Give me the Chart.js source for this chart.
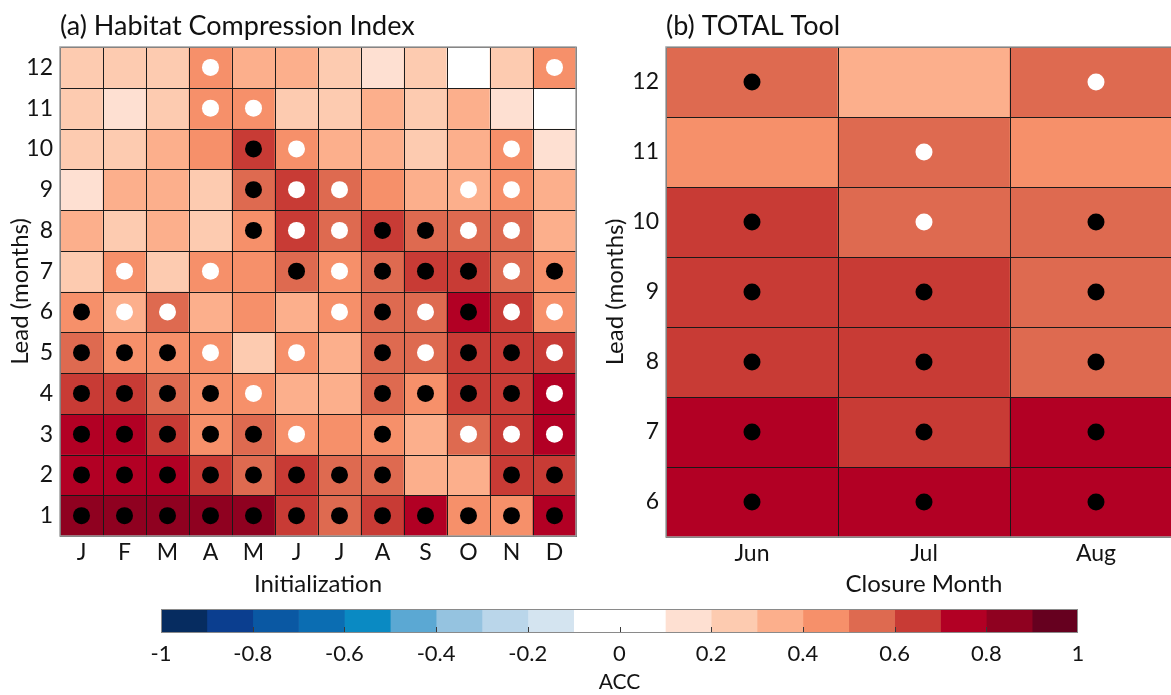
<!DOCTYPE html>
<html>
<head>
<meta charset="utf-8">
<title>ACC heatmaps</title>
<script src="https://cdn.jsdelivr.net/npm/chart.js@4.4.1/dist/chart.umd.min.js"></script>
<style>
  html, body { margin: 0; padding: 0; background: #fff; }
  body { width: 1171px; height: 695px; position: relative; overflow: hidden; }
  canvas { position: absolute; }
  #chartA { left: 0; top: 0; }
  #chartB { left: 600px; top: 0; }
  #chartC { left: 100px; top: 600px; }
</style>
</head>
<body>
<canvas id="chartA" width="590" height="600"></canvas>
<canvas id="chartB" width="600" height="600"></canvas>
<canvas id="chartC" width="1020" height="95"></canvas>
<script>
// ---- data ----
const MONTHS = ['J', 'F', 'M', 'A', 'M', 'J', 'J', 'A', 'S', 'O', 'N', 'D'];
const LEADS_A = [12, 11, 10, 9, 8, 7, 6, 5, 4, 3, 2, 1];

// ACC, rows = lead 12 -> 1, columns = initialization month
const ACC_A = [
    [0.26, 0.24, 0.25, 0.43, 0.36, 0.34, 0.27, 0.16, 0.23, 0.04, 0.26, 0.44],
    [0.24, 0.14, 0.22, 0.45, 0.42, 0.26, 0.25, 0.33, 0.27, 0.32, 0.17, 0.06],
    [0.25, 0.26, 0.34, 0.44, 0.66, 0.41, 0.35, 0.33, 0.24, 0.31, 0.43, 0.18],
    [0.13, 0.32, 0.35, 0.22, 0.57, 0.63, 0.54, 0.45, 0.36, 0.34, 0.42, 0.33],
    [0.35, 0.24, 0.33, 0.27, 0.46, 0.64, 0.56, 0.65, 0.54, 0.53, 0.55, 0.36],
    [0.25, 0.41, 0.26, 0.44, 0.47, 0.56, 0.43, 0.58, 0.62, 0.64, 0.52, 0.46],
    [0.47, 0.35, 0.53, 0.34, 0.43, 0.36, 0.44, 0.57, 0.52, 0.76, 0.61, 0.42],
    [0.58, 0.48, 0.45, 0.42, 0.25, 0.41, 0.33, 0.55, 0.51, 0.67, 0.63, 0.62],
    [0.66, 0.64, 0.57, 0.47, 0.44, 0.37, 0.36, 0.56, 0.48, 0.65, 0.68, 0.73],
    [0.76, 0.74, 0.65, 0.43, 0.55, 0.42, 0.46, 0.44, 0.35, 0.54, 0.66, 0.72],
    [0.78, 0.77, 0.73, 0.64, 0.56, 0.63, 0.58, 0.55, 0.34, 0.36, 0.67, 0.62],
    [0.86, 0.84, 0.85, 0.83, 0.87, 0.64, 0.57, 0.66, 0.74, 0.46, 0.44, 0.75]
];
// markers: 1 = black dot, 2 = white dot, 0 = none
const SIG_A = [
    [0, 0, 0, 2, 0, 0, 0, 0, 0, 0, 0, 2],
    [0, 0, 0, 2, 2, 0, 0, 0, 0, 0, 0, 0],
    [0, 0, 0, 0, 1, 2, 0, 0, 0, 0, 2, 0],
    [0, 0, 0, 0, 1, 2, 2, 0, 0, 2, 2, 0],
    [0, 0, 0, 0, 1, 2, 2, 1, 1, 2, 2, 0],
    [0, 2, 0, 2, 0, 1, 2, 1, 1, 1, 2, 1],
    [1, 2, 2, 0, 0, 0, 2, 1, 2, 1, 2, 2],
    [1, 1, 1, 2, 0, 2, 0, 1, 2, 1, 1, 2],
    [1, 1, 1, 1, 2, 0, 0, 1, 1, 1, 1, 2],
    [1, 1, 1, 1, 1, 2, 0, 1, 0, 2, 2, 2],
    [1, 1, 1, 1, 1, 1, 1, 1, 0, 0, 1, 1],
    [1, 1, 1, 1, 1, 1, 1, 1, 1, 1, 1, 1]
];

const CLOSURE = ['Jun', 'Jul', 'Aug'];
const LEADS_B = [12, 11, 10, 9, 8, 7, 6];
const ACC_B = [
    [0.56, 0.34, 0.54],
    [0.45, 0.53, 0.44],
    [0.65, 0.55, 0.57],
    [0.67, 0.64, 0.56],
    [0.63, 0.66, 0.55],
    [0.76, 0.65, 0.75],
    [0.77, 0.74, 0.78]
];
const SIG_B = [
    [1, 0, 2],
    [0, 2, 0],
    [1, 2, 1],
    [1, 1, 1],
    [1, 1, 1],
    [1, 1, 1],
    [1, 1, 1]
];

// colour classes, 0.1 wide from -1 to 1
const CBAR_LO = [-1, -0.9, -0.8, -0.7, -0.6, -0.5, -0.4, -0.3, -0.2, -0.1, 0, 0.1, 0.2, 0.3, 0.4, 0.5, 0.6, 0.7, 0.8, 0.9];
const CBAR_HI = [-0.9, -0.8, -0.7, -0.6, -0.5, -0.4, -0.3, -0.2, -0.1, 0, 0.1, 0.2, 0.3, 0.4, 0.5, 0.6, 0.7, 0.8, 0.9, 1];
const ACC_COLORS = [
    '#062c60', '#0b3e8f', '#0a58a3', '#0b6db2', '#0a8ac3', '#5ba8d3', '#95c3e0', '#bad6ea', '#d4e4f0',
    '#ffffff', '#ffffff',
    '#fee0d2', '#fdcbb0', '#fcaf8c', '#f6906a', '#de6a50', '#c83b35', '#b20024', '#8f0120', '#66001f'
];
const CBAR_TICKS = [-1, -0.8, -0.6, -0.4, -0.2, 0, 0.2, 0.4, 0.6, 0.8, 1];

// ---- helpers ----
Chart.defaults.font.family = 'Lato, "DejaVu Sans", sans-serif';
Chart.defaults.color = '#141414';
Chart.defaults.animation = false;
Chart.defaults.events = [];

function accColor(v) {
    let i = Math.floor((v + 1) * 10);
    i = Math.max(0, Math.min(19, i));
    return ACC_COLORS[i];
}

function heatDatasets(leads, acc, sig) {
    let dots = leads.map((lead, r) => ({
        type: 'scatter',
        data: sig[r].map(s => s ? lead : null),
        pointRadius: 8.5,
        pointBorderWidth: 0,
        pointBackgroundColor: sig[r].map(s => s === 1 ? '#000000' : '#ffffff')
    }));
    let cells = leads.map((lead, r) => ({
        type: 'bar',
        data: acc[r].map(() => [lead - 0.5, lead + 0.5]),
        backgroundColor: acc[r].map(accColor),
        borderWidth: 0,
        grouped: false,
        barPercentage: 1,
        categoryPercentage: 1
    }));
    // dots come first so they are painted last
    return dots.concat(cells);
}

// thin outlines round every cell, drawn once before the dots go on top
const cellEdges = {
    id: 'cellEdges',
    beforeDraw(chart) { chart.$edgesDone = false; },
    beforeDatasetDraw(chart, args) {
        if (args.meta.type !== 'scatter' || chart.$edgesDone) return;
        chart.$edgesDone = true;
        const ctx = chart.ctx;
        ctx.save();
        ctx.strokeStyle = 'rgba(25,25,25,0.85)';
        ctx.lineWidth = 1;
        chart.data.datasets.forEach((ds, i) => {
            const meta = chart.getDatasetMeta(i);
            if (meta.type !== 'bar') return;
            meta.data.forEach(bar => {
                const p = bar.getProps(['x', 'y', 'base', 'width'], true);
                const x0 = Math.round(p.x - p.width / 2) + 0.5;
                const x1 = Math.round(p.x + p.width / 2) + 0.5;
                const y0 = Math.round(Math.min(p.y, p.base)) + 0.5;
                const y1 = Math.round(Math.max(p.y, p.base)) + 0.5;
                ctx.strokeRect(x0, y0, x1 - x0, y1 - y0);
            });
        });
        const a = chart.chartArea;
        ctx.strokeStyle = '#a0a0a0';
        ctx.lineWidth = 1.5;
        ctx.strokeRect(a.left, a.top, a.right - a.left, a.bottom - a.top);
        ctx.restore();
    }
};

// frame and inner tick marks of the colour bar
const cbarFrame = {
    id: 'cbarFrame',
    afterDatasetsDraw(chart) {
        const ctx = chart.ctx, a = chart.chartArea, x = chart.scales.x;
        ctx.save();
        ctx.strokeStyle = '#3a3a3a';
        ctx.lineWidth = 1;
        CBAR_TICKS.slice(1, -1).forEach(v => {
            const px = Math.round(x.getPixelForValue(v)) + 0.5;
            ctx.beginPath();
            ctx.moveTo(px, a.bottom);
            ctx.lineTo(px, a.bottom - 6);
            ctx.stroke();
        });
        ctx.strokeStyle = '#8a8a8a';
        ctx.strokeRect(a.left + 0.5, a.top + 0.5, a.right - a.left - 1, a.bottom - a.top - 1);
        ctx.restore();
    }
};

function heatOptions(title, xTitle, yMin, yMax, leads, padRight, yWidth, xHeight, yTitlePad) {
    return {
        responsive: false,
        layout: { padding: { left: 0, right: padRight, top: 0, bottom: 0 } },
        plugins: {
            legend: { display: false },
            tooltip: { enabled: false },
            title: {
                display: true,
                text: title,
                align: 'start',
                fullSize: false,
                color: '#111',
                font: { size: 27, weight: 'normal', lineHeight: 1.2 },
                padding: { top: 10, bottom: 4.6 }
            }
        },
        scales: {
            x: {
                type: 'category',
                offset: true,
                grid: { display: false, drawTicks: false },
                border: { display: false },
                ticks: { padding: 3, font: { size: 23 }, autoSkip: false, maxRotation: 0 },
                title: { display: true, text: xTitle, font: { size: 24 }, padding: { top: 0, bottom: 1 } },
                afterFit: s => { s.height = xHeight; }
            },
            y: {
                type: 'linear',
                min: yMin,
                max: yMax,
                grid: { display: false, drawTicks: false },
                border: { display: false },
                afterBuildTicks: s => { s.ticks = leads.map(v => ({ value: v })); },
                ticks: { padding: 7, font: { size: 23 } },
                title: { display: true, text: 'Lead (months)', font: { size: 24 }, padding: { top: yTitlePad, bottom: 0 } },
                afterFit: s => { s.width = yWidth; }
            }
        }
    };
}

// ---- (a) habitat compression index ----
new Chart(document.getElementById('chartA'), {
    type: 'bar',
    data: { labels: MONTHS, datasets: heatDatasets(LEADS_A, ACC_A, SIG_A) },
    options: heatOptions('(a) Habitat Compression Index', 'Initialization', 0.5, 12.5, LEADS_A, 14, 60, 64, 6),
    plugins: [cellEdges]
});

// ---- (b) TOTAL tool ----
new Chart(document.getElementById('chartB'), {
    type: 'bar',
    data: { labels: CLOSURE, datasets: heatDatasets(LEADS_B, ACC_B, SIG_B) },
    options: heatOptions('(b) TOTAL Tool', 'Closure Month', 5.5, 12.5, LEADS_B, 18, 66, 63, 1),
    plugins: [cellEdges]
});

// ---- colour bar ----
new Chart(document.getElementById('chartC'), {
    type: 'bar',
    data: {
        labels: ['ACC'],
        datasets: CBAR_LO.map((lo, i) => ({
            data: [[lo, CBAR_HI[i]]],
            backgroundColor: ACC_COLORS[i],
            borderWidth: 0,
            grouped: false,
            barPercentage: 1,
            categoryPercentage: 1
        }))
    },
    options: {
        indexAxis: 'y',
        responsive: false,
        layout: { padding: { left: 61, right: 42, top: 9, bottom: 0 } },
        plugins: { legend: { display: false }, tooltip: { enabled: false } },
        scales: {
            y: { display: false },
            x: {
                type: 'linear',
                min: -1,
                max: 1,
                grid: { display: false, drawTicks: false },
                border: { display: false },
                afterBuildTicks: s => { s.ticks = CBAR_TICKS.map(v => ({ value: v })); },
                ticks: { padding: 8, font: { size: 22 }, callback: v => String(v) },
                title: { display: true, text: 'ACC', font: { size: 21 }, padding: { top: 0, bottom: 0 } },
                afterFit: s => { s.height = 62; }
            }
        }
    },
    plugins: [cbarFrame]
});
</script>
</body>
</html>
